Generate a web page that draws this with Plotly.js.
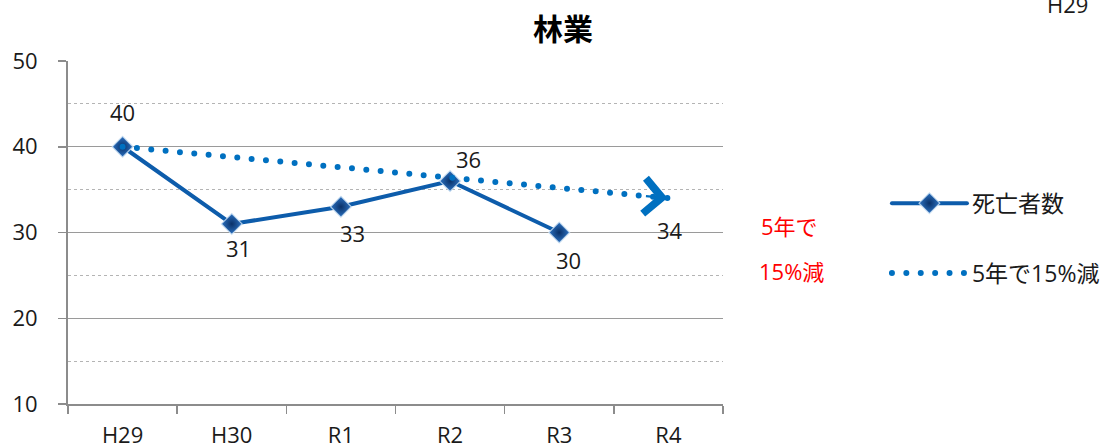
<!DOCTYPE html>
<html>
<head>
<meta charset="utf-8">
<script src="https://cdn.plot.ly/plotly-3.0.1.min.js"></script>
<style>
  html, body { margin: 0; padding: 0; background: #fff; }
  #chart { width: 1104px; height: 448px; }
  /* round dots for the dotted target line */
  path.js-line { stroke-linecap: round; }
</style>
</head>
<body>
<div id="chart"></div>
<script>
// 林業：死亡者数の推移と目標ライン
const years = ['H29', 'H30', 'R1', 'R2', 'R3', 'R4'];
const deaths = [40, 31, 33, 36, 30, null];
const target = [40, null, null, null, null, 34];
const yTicks = [10, 20, 30, 40, 50];

const seriesNames = ['死亡者数', '5年で15%減'];
const noteLines = ['5年で', '15%減'];
const strayLabel = 'H29';

const FONT = 'Open Sans, Noto Sans CJK JP, sans-serif';
const TEXT = '#1a1a1a';

// label placement around each point (pixels)
const deathLabelShift = [[0, 35], [7, -24], [12, -26], [18, 22], [9, -27], [0, 0]];
const targetLabelShift = [2, -32];

const traces = [
  {
    type: 'scatter', mode: 'lines+markers', name: seriesNames[0],
    x: years, y: deaths, legendgroup: 'a',
    line: { color: '#0d5cab', width: 4 },
    marker: {
      symbol: 'diamond', size: 16, color: '#2c72c2',
      gradient: { type: 'radial', color: '#0a3168' },
      line: { color: 'rgba(200,222,242,0.85)', width: 1.2 }
    }
  },
  {
    type: 'scatter', mode: 'lines', name: seriesNames[1],
    x: years, y: target, connectgaps: true, legendgroup: 'b',
    line: { color: '#0070c0', width: 6, dash: '0px,14.4px' }
  }
];

const annotations = [];
deaths.forEach((v, i) => {
  if (v === null) return;
  annotations.push({
    x: years[i], y: v, xref: 'x', yref: 'y', text: String(v), showarrow: false,
    xanchor: 'center', yanchor: 'middle',
    xshift: deathLabelShift[i][0], yshift: deathLabelShift[i][1],
    font: { family: FONT, size: 22, color: TEXT }
  });
});
const lastIdx = target.length - 1;
annotations.push({
  x: years[lastIdx], y: target[lastIdx], xref: 'x', yref: 'y',
  text: String(target[lastIdx]), showarrow: false,
  xanchor: 'center', yanchor: 'middle',
  xshift: targetLabelShift[0], yshift: targetLabelShift[1],
  font: { family: FONT, size: 22, color: TEXT }
});
// arrowhead at the end of the target line
annotations.push({
  x: years[lastIdx], y: target[lastIdx], xref: 'x', yref: 'y', text: '',
  showarrow: true, arrowhead: 4, arrowsize: 3.1, arrowwidth: 2.2,
  arrowcolor: '#0070c0', ax: -24, ay: -2.2, standoff: 1
});
// red note beside the plot
annotations.push({
  x: 1.1008, y: 0.519, xref: 'paper', yref: 'paper', text: noteLines[0],
  xanchor: 'center', yanchor: 'middle',
  showarrow: false, font: { family: FONT, size: 22, color: '#ff0000' }
});
annotations.push({
  x: 1.1053, y: 0.388, xref: 'paper', yref: 'paper', text: noteLines[1],
  xanchor: 'center', yanchor: 'middle',
  showarrow: false, font: { family: FONT, size: 22, color: '#ff0000' }
});
annotations.push({
  x: 1.5267, y: 1.166, xref: 'paper', yref: 'paper', text: strayLabel,
  xanchor: 'center', yanchor: 'middle',
  showarrow: false, font: { family: FONT, size: 22, color: TEXT }
});

const layout = {
  width: 1104, height: 448,
  margin: { l: 68, r: 381, t: 61, b: 44, autoexpand: false },
  paper_bgcolor: '#fff', plot_bgcolor: '#fff',
  showlegend: true,
  title: {
    text: '林業', x: 0.51, xref: 'container', xanchor: 'center',
    y: 0.935, yref: 'container', yanchor: 'middle',
    font: { family: FONT, size: 30, weight: 700, color: '#000' }
  },
  xaxis: {
    type: 'category', range: [-0.5, 5.5], fixedrange: true,
    showline: true, linecolor: '#8c8c8c', linewidth: 2,
    ticks: 'outside', tickson: 'boundaries', ticklen: 8, tickcolor: '#8c8c8c', tickwidth: 1.5,
    showgrid: false, ticklabelstandoff: 11,
    tickfont: { family: FONT, size: 22, color: TEXT }
  },
  yaxis: {
    range: [10, 50], tickvals: yTicks, fixedrange: true,
    showline: true, linecolor: '#8c8c8c', linewidth: 2,
    ticks: 'outside', ticklen: 8, tickcolor: '#8c8c8c', tickwidth: 1.5,
    showgrid: true, gridcolor: '#9a9a9a', gridwidth: 1.3, zeroline: false,
    minor: { dtick: 5, showgrid: true, griddash: 'dot', gridcolor: '#b4b4b4', gridwidth: 1, ticks: '' },
    ticklabelstandoff: 16,
    tickfont: { family: FONT, size: 22, color: TEXT }
  },
  legend: {
    x: 1.2503, xanchor: 'left', y: 0.648, yanchor: 'top',
    font: { family: FONT, size: 23, color: TEXT },
    itemwidth: 75,
    tracegroupgap: 37, bgcolor: 'rgba(0,0,0,0)'
  },
  annotations: annotations
};

const gd = document.getElementById('chart');
Plotly.newPlot(gd, traces, layout, { staticPlot: true, displayModeBar: false }).then(() => {
  // longer legend samples
  gd.querySelectorAll('.legend .traces').forEach(tr => {
    const ln = tr.querySelector('path.js-line');
    if (ln) ln.setAttribute('d', 'M5,0h75');
    tr.querySelectorAll('.scatterpts path.point').forEach(p => p.setAttribute('transform', 'translate(43,0)'));
  });
});
</script>
</body>
</html>
